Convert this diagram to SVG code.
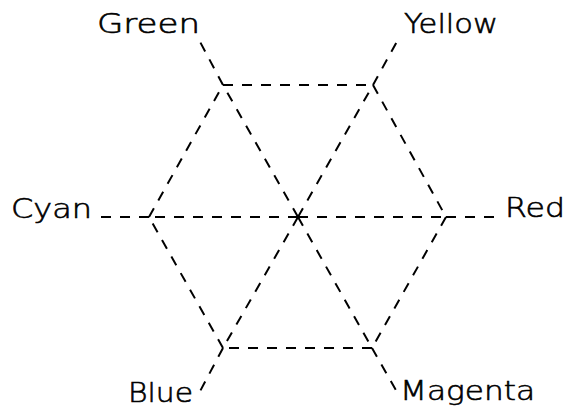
<svg xmlns="http://www.w3.org/2000/svg" width="566" height="409" viewBox="0 0 566 409">
<style>
.c line{stroke:#000;stroke-width:2;stroke-dasharray:10 9;fill:none}
text{font-family:"DejaVu Sans","Liberation Sans",sans-serif;font-weight:200;font-size:27px;fill:#000;stroke:#000;stroke-width:0.6}
</style>
<rect width="566" height="409" fill="#fff"/>
<g id="connectors" class="c">
<line x1="223" y1="85" x2="373" y2="85"/>
<line x1="373" y1="85" x2="446" y2="217"/>
<line x1="446" y1="217" x2="372" y2="348"/>
<line x1="372" y1="348" x2="223" y2="348"/>
<line x1="223" y1="348" x2="149" y2="217"/>
<line x1="149" y1="217" x2="223" y2="85"/>
<line x1="298" y1="217" x2="223" y2="85"/>
<line x1="298" y1="217" x2="373" y2="85"/>
<line x1="298" y1="217" x2="446" y2="217"/>
<line x1="298" y1="217" x2="372" y2="348"/>
<line x1="298" y1="217" x2="223" y2="348"/>
<line x1="298" y1="217" x2="149" y2="217"/>
<line x1="223" y1="85" x2="198" y2="38"/>
<line x1="373" y1="85" x2="400" y2="36"/>
<line x1="446" y1="217" x2="503" y2="217"/>
<line x1="372" y1="348" x2="397" y2="392"/>
<line x1="223" y1="348" x2="197" y2="397"/>
<line x1="149" y1="217" x2="94" y2="217"/>
</g>
<g id="green"><text x="97" y="33" textLength="103" lengthAdjust="spacingAndGlyphs">Green</text></g>
<g id="yellow"><text x="404" y="33" textLength="94" lengthAdjust="spacingAndGlyphs">Yellow</text></g>
<g id="cyan"><text x="11" y="218" textLength="81" lengthAdjust="spacingAndGlyphs">Cyan</text></g>
<g id="red"><text x="505" y="217" textLength="60" lengthAdjust="spacingAndGlyphs">Red</text></g>
<g id="blue"><text x="128" y="402" textLength="65" lengthAdjust="spacingAndGlyphs">Blue</text></g>
<g id="magenta"><text x="400" y="400" textLength="135" lengthAdjust="spacingAndGlyphs">Magenta</text></g>
</svg>
